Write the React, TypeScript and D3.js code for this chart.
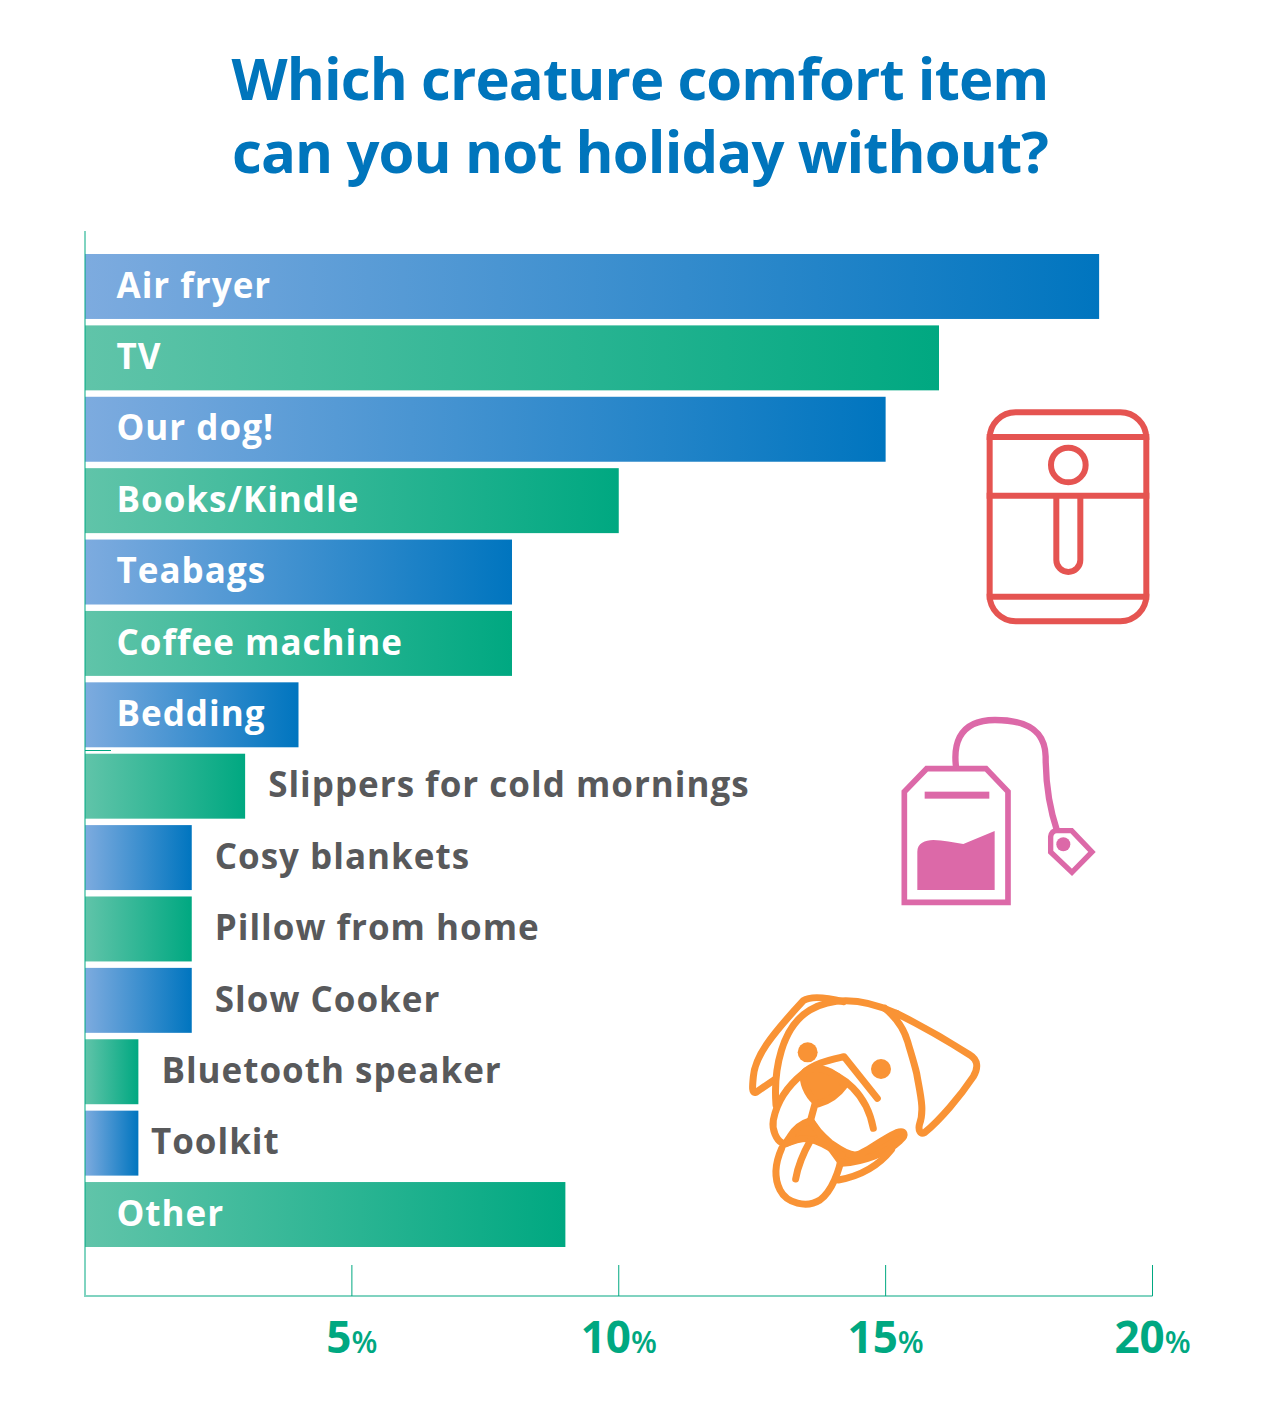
import React from "react";
import * as d3 from "d3";

const categories = ["Air fryer","TV","Our dog!","Books/Kindle","Teabags","Coffee machine","Bedding","Slippers for cold mornings","Cosy blankets","Pillow from home","Slow Cooker","Bluetooth speaker","Toolkit","Other"];
const values = [19,16,15,10,8,8,4,3,2,2,2,1,1,9];
const tickValues = [5,10,15,20];
const titleLines = ["Which creature comfort item","can you not holiday without?"];

const FONT = "'Open Sans', sans-serif";
const GREY = "#58595b";
const TEAL = "#00a881";

export default function App() {
  const x = d3.scaleLinear().domain([0,20]).range([85,1152.5]);
  const y = d3.scaleBand().domain(categories).range([254,1247]).paddingInner(0.09).paddingOuter(0);
  const red = "#e55451", pink = "#dc69a8", orange = "#f99335";
  return (
    <svg width={1280} height={1420} style={{position:"absolute",left:0,top:0,background:"#fff"}} fontFamily={FONT}>
      <defs>
        <linearGradient id="blue"><stop offset="0" stopColor="#7dabdf"/><stop offset="1" stopColor="#0075bf"/></linearGradient>
        <linearGradient id="green"><stop offset="0" stopColor="#60c4a9"/><stop offset="1" stopColor={TEAL}/></linearGradient>
      </defs>
      {titleLines.map((t,i)=>(
        <text key={t} x={640} y={100+i*72.5} textAnchor="middle" fontSize={58} fontWeight={700} letterSpacing={-0.9} fill="#0075bc">{t}</text>
      ))}
      {categories.map((c,i)=>{
        const v = values[i];
        const inside = v>=4 ;
        const lx = inside ? 116.5 : (c==="Toolkit" ? x(v)+12.5 : x(v)+23);
        return (
          <g key={c}>
            <rect x={x(0)} y={y(c)} width={x(v)-x(0)} height={y.bandwidth()} fill={`url(#${i%2?"green":"blue"})`}/>
            <text x={lx} y={y(c)!+y.bandwidth()/2+11.2} fontSize={35} fontWeight={700} letterSpacing={1} fill={inside?"#fff":GREY}>{c}</text>
          </g>
        );
      })}
      <line x1={85} x2={85} y1={231} y2={1297} stroke={TEAL} strokeWidth={1}/>
      <line x1={85} x2={111} y1={750.5} y2={750.5} stroke={TEAL} strokeWidth={1}/>
      <line x1={85} x2={1152.5} y1={1296} y2={1296} stroke="#80d3c0" strokeWidth={2}/>
      {tickValues.map(t=>(
        <g key={t}>
          <line x1={x(t)} x2={x(t)} y1={1265} y2={1296} stroke={TEAL} strokeWidth={1}/>
          <text x={x(t)} y={1353} textAnchor="middle" fontWeight={700} fill={TEAL} fontSize={44}>{t}<tspan fontSize={30} fontWeight={600}>%</tspan></text>
        </g>
      ))}
      <g transform="translate(960,390) scale(0.3333)" fill="none" stroke={red} strokeWidth={18}>
        <rect x={89} y={67} width={470} height={627} rx={78}/>
        <line x1={80} x2={568} y1={141} y2={141}/>
        <line x1={80} x2={568} y1={317} y2={317}/>
        <line x1={80} x2={568} y1={620} y2={620}/>
        <circle cx={325} cy={225} r={52}/>
        <path d="M289,317 V510 A36,36 0 0 0 361,510 V317"/>
      </g>
      <g transform="translate(880,700) scale(0.3333)" fill="none" stroke={pink} strokeWidth={17} strokeLinejoin="miter">
        <path d="M73,275 L140,206 L318,206 L384,275 L384,607 L73,607 Z"/>
        <rect x={134} y={275} width={194} height={21} fill={pink} stroke="none"/>
        <path d="M112,570 L112,455 C112,430 135,420 160,420 C190,420 220,428 250,432 L344,393 L344,570 Z" fill={pink} stroke="none"/>
        <path d="M228,200 C222,150 225,60 345,60 C440,60 495,90 497,170 C497,260 510,330 532,395" strokeWidth={19}/>
        <path d="M512,410 Q515,392 530,392 L575,392 L636,456 L576,517 L512,456 Z" strokeWidth={16}/>
        <circle cx={550} cy={433} r={21} fill={pink} stroke="none"/>
      </g>
      <g transform="translate(740,980) scale(0.3333)" fill="none" stroke={orange} strokeWidth={21} strokeLinecap="round" strokeLinejoin="round">
        <path d="M105,298 L48,337 C35,342 37,320 40,290 C45,230 90,170 190,62 C215,45 270,55 310,65"/>
        <path d="M108,375 C100,270 125,140 210,90 C280,50 370,55 470,100"/>
        <path d="M470,100 C540,135 620,180 690,225 C715,240 715,265 700,290 C660,350 600,420 555,457 C540,465 535,450 538,435 C555,390 540,340 530,280 C520,240 510,210 503,185 C490,140 465,110 435,85"/>
        <path d="M412,355 L312,230 C270,240 220,250 190,280 C140,320 110,370 100,420 C95,450 110,480 125,488"/>
        <path d="M235,265 C310,285 380,340 400,445"/>
        <path d="M190,290 C190,270 210,265 235,265 C270,270 300,290 315,315 C290,350 260,365 235,372 C210,355 190,320 190,290 Z" fill={orange}/>
        <path d="M225,372 L212,420"/>
        <path d="M212,422 C185,430 165,445 150,470 L135,492 C160,478 190,472 212,478 C222,475 240,480 250,478 C238,460 222,440 212,422 Z" fill={orange}/>
        <path d="M212,422 C225,445 250,470 270,488 C295,505 320,525 345,525 C370,525 420,480 470,458 C495,450 500,465 480,482 C440,520 370,545 305,550 Z" fill={orange}/>
        <path d="M295,600 C350,590 410,565 455,508"/>
        <path d="M125,505 C105,550 100,590 120,630 C140,670 200,685 240,660 C275,635 300,570 305,525"/>
        <path d="M135,492 C170,478 195,472 212,478 C245,485 280,510 305,525"/>
        <path d="M167,597 C175,550 195,510 212,480"/>
        <circle cx={203} cy={217} r={30} fill={orange} stroke="none"/>
        <circle cx={423} cy={267} r={30} fill={orange} stroke="none"/>
      </g>
    </svg>
  );
}
